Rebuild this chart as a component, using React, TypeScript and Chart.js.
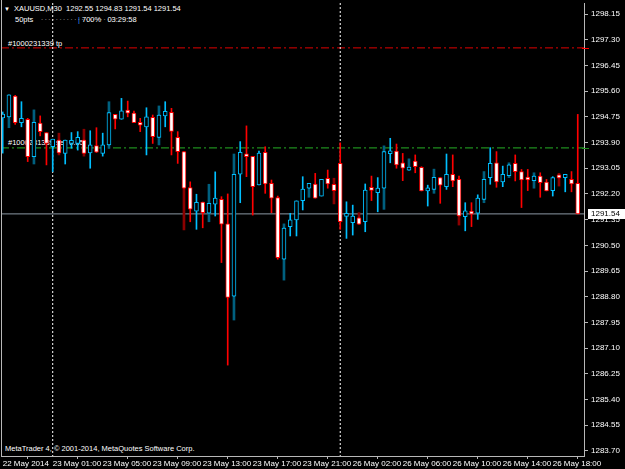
import React, { useEffect, useRef } from "react";
import { Chart, registerables } from "chart.js";

Chart.register(...registerables);

// ---- data (XAUUSD, M30) ----
const opens = [
  1294.71, 1294.75, 1295.44, 1294.56, 1294.67, 1293.43, 1294.54, 1294.23, 1293.76, 1293.98,
  1293.54, 1293.87, 1293.87, 1293.98, 1293.56, 1293.80, 1293.54, 1293.82, 1294.83, 1294.67,
  1294.95, 1294.87, 1294.56, 1294.42, 1294.73, 1294.07, 1294.78, 1294.90, 1294.07, 1293.60,
  1292.41, 1291.63, 1291.93, 1291.56, 1291.86, 1292.02, 1291.21, 1288.82, 1292.85, 1293.52,
  1293.44, 1292.50, 1293.58, 1292.55, 1292.08, 1290.04, 1291.12, 1291.34, 1291.98, 1292.39,
  1292.53, 1292.13, 1292.72, 1292.52, 1293.21, 1291.46, 1291.25, 1291.41, 1291.28, 1292.34,
  1292.24, 1292.39, 1293.53, 1293.62, 1293.23, 1292.99, 1293.29, 1293.08, 1292.30, 1292.35,
  1292.74, 1292.44, 1292.85, 1292.68, 1291.45, 1291.55, 1291.56, 1292.02, 1292.74, 1293.23,
  1292.60, 1292.80, 1293.21, 1292.94, 1292.69, 1292.64, 1292.79, 1292.59, 1292.31, 1292.75,
  1292.74, 1292.68, 1292.55,
];
const highs = [
  1294.91, 1295.48, 1295.46, 1295.25, 1294.70, 1294.57, 1294.78, 1294.23, 1294.01, 1293.98,
  1293.98, 1294.23, 1294.26, 1293.98, 1294.29, 1294.39, 1294.21, 1294.89, 1294.83, 1295.36,
  1295.27, 1294.94, 1294.70, 1295.05, 1294.81, 1294.81, 1295.25, 1295.03, 1294.26, 1293.60,
  1292.60, 1292.19, 1291.93, 1291.89, 1292.93, 1292.11, 1292.20, 1292.85, 1293.93, 1294.45,
  1293.44, 1293.62, 1293.76, 1292.66, 1292.13, 1291.07, 1291.56, 1291.97, 1292.77, 1292.55,
  1292.88, 1292.68, 1292.99, 1292.52, 1293.89, 1291.94, 1291.83, 1291.41, 1292.53, 1292.79,
  1292.74, 1293.60, 1294.04, 1293.85, 1293.54, 1293.07, 1293.49, 1293.10, 1292.49, 1292.75,
  1292.74, 1293.52, 1293.49, 1292.79, 1291.91, 1291.91, 1292.17, 1292.68, 1293.73, 1293.60,
  1293.12, 1293.16, 1293.49, 1293.01, 1293.01, 1292.79, 1292.90, 1292.68, 1292.77, 1292.75,
  1292.85, 1292.94, 1294.83,
];
const lows = [
  1293.55, 1294.75, 1294.50, 1294.42, 1293.27, 1293.43, 1294.12, 1293.16, 1292.94, 1293.56,
  1293.19, 1293.71, 1293.65, 1293.54, 1293.05, 1293.57, 1293.45, 1293.82, 1294.35, 1294.67,
  1294.75, 1294.56, 1294.26, 1293.49, 1293.87, 1294.07, 1294.42, 1293.49, 1293.21, 1292.39,
  1291.28, 1291.03, 1291.08, 1291.56, 1291.47, 1289.93, 1286.54, 1288.82, 1291.91, 1292.77,
  1291.50, 1292.50, 1292.22, 1291.58, 1290.04, 1290.04, 1290.81, 1290.81, 1291.67, 1292.39,
  1292.06, 1292.13, 1292.39, 1292.31, 1291.03, 1290.73, 1290.84, 1291.20, 1290.95, 1291.98,
  1291.61, 1292.39, 1293.23, 1293.05, 1292.64, 1292.99, 1292.90, 1292.30, 1291.80, 1292.35,
  1291.89, 1292.35, 1292.44, 1291.47, 1290.98, 1291.12, 1291.36, 1292.02, 1292.52, 1292.42,
  1292.44, 1292.80, 1292.63, 1291.75, 1292.31, 1292.64, 1292.09, 1292.30, 1292.13, 1292.73,
  1292.27, 1292.27, 1291.54,
];
const closes = [
  1294.84, 1295.48, 1294.56, 1294.70, 1293.43, 1294.57, 1294.26, 1293.87, 1294.01, 1293.56,
  1293.98, 1293.95, 1294.07, 1293.54, 1293.82, 1293.58, 1293.82, 1294.89, 1294.67, 1294.95,
  1294.87, 1294.56, 1294.47, 1294.75, 1294.09, 1294.81, 1294.93, 1294.27, 1293.60, 1292.39,
  1291.70, 1291.92, 1291.58, 1291.89, 1292.06, 1291.20, 1288.78, 1292.85, 1293.58, 1293.43,
  1292.44, 1293.55, 1292.53, 1292.06, 1290.09, 1291.07, 1291.34, 1291.97, 1292.36, 1292.55,
  1292.06, 1292.68, 1292.53, 1292.31, 1291.28, 1291.47, 1291.47, 1291.20, 1292.33, 1292.32,
  1292.39, 1293.60, 1293.62, 1293.16, 1293.05, 1293.07, 1293.10, 1292.30, 1292.36, 1292.75,
  1292.49, 1292.85, 1292.63, 1291.47, 1291.64, 1291.53, 1292.06, 1292.68, 1293.21, 1292.60,
  1292.85, 1293.16, 1292.94, 1292.66, 1292.66, 1292.79, 1292.57, 1292.30, 1292.74, 1292.73,
  1292.85, 1292.53, 1291.54,
];

// darker overlay shadows seen behind some bars
const ghostBars = [1, 5, 9, 13, 17, 25, 29, 33, 37, 45, 49, 53, 57, 61, 65, 69, 73, 77, 81, 85, 89];
const ghostLows = [
  1294.39, 1293.19, 1293.49, 1293.45, 1293.71, 1293.82, 1291.01, 1291.28, 1288.03, 1289.35, 1292.09,
  1291.87, 1291.20, 1291.69, 1292.99, 1292.22, 1291.17, 1291.91, 1292.74, 1292.39, 1292.46,
];
const ghostHighs = [
  1294.75, 1294.98, 1294.21, 1294.34, 1295.25, 1295.11, 1292.39, 1292.52, 1293.52, 1291.21, 1292.39,
  1292.72, 1291.58, 1293.79, 1293.36, 1293.02, 1291.47, 1292.94, 1293.23, 1292.90, 1292.88,
];

const timeTickBars = [0, 8, 16, 24, 32, 40, 48, 56, 64, 72, 80, 88];
const timeTickLabels = [
  "22 May 2014", "23 May 01:00", "23 May 05:00", "23 May 09:00", "23 May 13:00", "23 May 17:00",
  "23 May 21:00", "26 May 02:00", "26 May 06:00", "26 May 10:00", "26 May 14:00", "26 May 18:00",
];
const priceTicks = [
  1283.70, 1284.55, 1285.40, 1286.25, 1287.10, 1287.95, 1288.80, 1289.65, 1290.50,
  1291.35, 1292.20, 1293.05, 1293.90, 1294.75, 1295.60, 1296.45, 1297.30, 1298.15,
];
const separatorBars = [8, 54];
const tpLevel = 1297.03;
const orderLevel = 1293.72;
const bidPrice = 1291.54;

// ---- view window ----
const X_MIN = -0.272;
const X_MAX = 93.0;
const Y_MIN = 1283.534;
const Y_MAX = 1298.514;

const FONT = "'Liberation Sans', Arial, sans-serif";
const CYAN = "#00BFFF";
const RED = "#FF0000";
const GHOST_UP = "#00607F";
const GHOST_DN = "#8B0000";
const AXIS = "#B8B8B8";

const isUp = (i: number) => closes[i] >= opens[i];

const overlayPlugin = {
  id: "mtOverlay",
  afterDraw(chart: any) {
    const { ctx, chartArea, scales } = chart;
    const y = scales.y;
    ctx.save();
    ctx.strokeStyle = AXIS;
    ctx.lineWidth = 1;
    ctx.beginPath();
    ctx.moveTo(chartArea.left + 0.5, 0);
    ctx.lineTo(chartArea.left + 0.5, chartArea.bottom);
    ctx.stroke();
    const marks: [number, string][] = [
      [tpLevel, RED],
      [orderLevel, "#1E8C1E"],
    ];
    for (const [lvl, col] of marks) {
      const py = Math.round(y.getPixelForValue(lvl)) + 0.5;
      ctx.strokeStyle = col;
      ctx.beginPath();
      ctx.moveTo(chartArea.right - 2, py);
      ctx.lineTo(chartArea.right + 5, py);
      ctx.stroke();
    }
    const by = Math.round(y.getPixelForValue(bidPrice));
    ctx.fillStyle = "#FFFFFF";
    ctx.fillRect(chartArea.right + 4, by - 5, 625 - (chartArea.right + 4), 10);
    ctx.fillStyle = "#000000";
    ctx.font = `8px ${FONT}`;
    ctx.textBaseline = "middle";
    ctx.textAlign = "left";
    ctx.fillText(bidPrice.toFixed(2), chartArea.right + 7, by);
    ctx.restore();
  },
};

export default function App() {
  const ref = useRef<HTMLCanvasElement>(null);

  useEffect(() => {
    const canvas = ref.current;
    if (!canvas) return;
    const idx = opens.map((_, i) => i);

    const wickData = idx.map((i) => ({ x: i, y: [lows[i], highs[i]] }));
    const bodyData = idx.map((i) => ({
      x: i,
      y: [Math.min(opens[i], closes[i]), Math.max(opens[i], closes[i])],
    }));
    const ghostData = ghostBars.map((b, k) => ({ x: b, y: [ghostLows[k], ghostHighs[k]] }));

    const hLine = (lvl: number) => [
      { x: X_MIN, y: lvl },
      { x: X_MAX, y: lvl },
    ];

    const datasets: any[] = [
      {
        type: "line",
        data: hLine(tpLevel),
        borderColor: "#E00000",
        borderWidth: 1,
        borderDash: [8, 3, 2, 3],
        pointRadius: 0,
        order: 20,
      },
      {
        type: "line",
        data: hLine(orderLevel),
        borderColor: "#1E8C1E",
        borderWidth: 1.3,
        borderDash: [8, 3, 2, 3],
        pointRadius: 0,
        order: 20,
      },
      {
        type: "line",
        data: hLine(bidPrice),
        borderColor: "#8C98A4",
        borderWidth: 1,
        pointRadius: 0,
        order: 20,
      },
      ...separatorBars.map((b) => ({
        type: "line",
        data: [
          { x: b, y: Y_MAX },
          { x: b, y: Y_MIN },
        ],
        borderColor: "#FFFFFF",
        borderWidth: 1,
        borderDash: [2, 2],
        pointRadius: 0,
        order: 19,
      })),
      {
        type: "bar",
        data: ghostData,
        backgroundColor: ghostBars.map((b) => (isUp(b) ? GHOST_UP : GHOST_DN)),
        borderWidth: 0,
        barThickness: 2,
        grouped: false,
        order: 5,
      },
      {
        type: "bar",
        data: wickData,
        backgroundColor: idx.map((i) => (isUp(i) ? CYAN : RED)),
        borderWidth: 0,
        barThickness: 1,
        grouped: false,
        order: 3,
      },
      {
        type: "bar",
        data: bodyData,
        backgroundColor: idx.map((i) => (isUp(i) ? "#000000" : "#FFFFFF")),
        borderColor: idx.map((i) => (isUp(i) ? CYAN : RED)),
        borderWidth: 1,
        borderSkipped: false,
        barThickness: 4,
        minBarLength: 3,
        grouped: false,
        order: 1,
      },
    ];

    const chart = new Chart(canvas, {
      type: "bar",
      data: { datasets },
      options: {
        responsive: false,
        animation: false,
        events: [],
        layout: { padding: { left: 1, top: 3, right: 0, bottom: 0 } },
        plugins: { legend: { display: false }, tooltip: { enabled: false } },
        scales: {
          x: {
            type: "linear",
            min: X_MIN,
            max: X_MAX,
            offset: false,
            afterBuildTicks: (s: any) => {
              s.ticks = timeTickBars.map((v) => ({ value: v }));
            },
            afterFit: (s: any) => {
              s.height = 13;
              s.paddingLeft = 0;
              s.paddingRight = 0;
            },
            ticks: {
              align: "start",
              autoSkip: false,
              maxRotation: 0,
              minRotation: 0,
              color: "#FFFFFF",
              padding: 0,
              font: { family: FONT, size: 8 },
              callback: (_v: any, i: number) => timeTickLabels[i],
            },
            grid: { drawOnChartArea: false, drawTicks: true, tickLength: 3, color: AXIS },
            border: { display: true, color: AXIS },
          },
          y: {
            type: "linear",
            position: "right",
            min: Y_MIN,
            max: Y_MAX,
            afterBuildTicks: (s: any) => {
              s.ticks = priceTicks.map((v) => ({ value: v }));
            },
            afterFit: (s: any) => {
              s.width = 41;
              s.paddingTop = 0;
              s.paddingBottom = 0;
            },
            ticks: {
              color: "#FFFFFF",
              padding: 3,
              autoSkip: false,
              font: { family: FONT, size: 8 },
              callback: (v: any) => Number(v).toFixed(2),
            },
            grid: { drawOnChartArea: false, drawTicks: true, tickLength: 4, color: AXIS },
            border: { display: true, color: AXIS },
          },
        },
      },
      plugins: [overlayPlugin],
    } as any);

    return () => chart.destroy();
  }, []);

  const txt: React.CSSProperties = {
    position: "absolute",
    color: "#FFFFFF",
    fontFamily: FONT,
    fontSize: "7.5px",
    lineHeight: "10px",
    whiteSpace: "pre",
  };

  return (
    <div
      style={{
        position: "fixed",
        left: 0,
        top: 0,
        width: 625,
        height: 469,
        background: "#000000",
        overflow: "hidden",
      }}
    >
      <div style={{ ...txt, left: 4, top: 4, fontSize: "6px" }}>▼</div>
      <div style={{ ...txt, left: 14, top: 4 }}>XAUUSD,M30  1292.55 1294.83 1291.54 1291.54</div>
      <div style={{ ...txt, left: 15, top: 15 }}>50pts</div>
      <div style={{ ...txt, left: 41, top: 13, color: "#A0A0A0", letterSpacing: "1.6px" }}>.......................</div>
      <div style={{ ...txt, left: 78, top: 15, color: "#3399FF" }}>|</div>
      <div style={{ ...txt, left: 82, top: 15 }}>700%   03:29:58</div>
      <div style={{ ...txt, left: 8, top: 39 }}>#1000231339 tp</div>
      <div style={{ ...txt, left: 8, top: 138 }}>#1000231339 sell 0.65</div>
      <div style={{ ...txt, left: 5, top: 444 }}>MetaTrader 4, © 2001-2014, MetaQuotes Software Corp.</div>
      <canvas
        ref={ref}
        width={625}
        height={469}
        style={{ position: "absolute", left: 0, top: 0, width: 625, height: 469 }}
      />
    </div>
  );
}
